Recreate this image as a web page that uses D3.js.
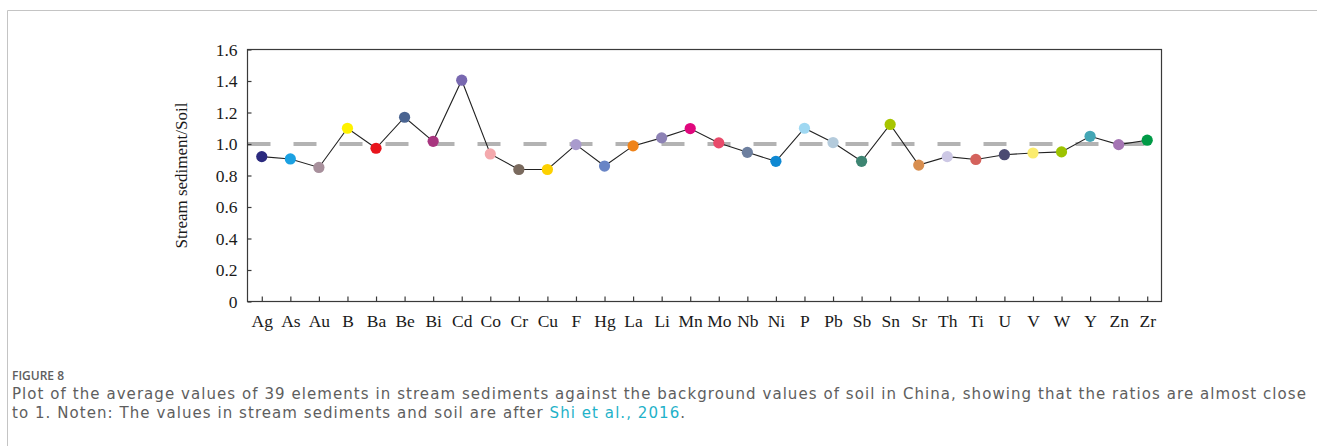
<!DOCTYPE html>
<html>
<head>
<meta charset="utf-8">
<script src="https://cdn.jsdelivr.net/npm/d3@7"></script>
<style>
  html, body { margin: 0; padding: 0; background: #fff; }
  svg { display: block; }
</style>
</head>
<body>
<div id="chart"></div>
<script>
const elements = ['Ag', 'As', 'Au', 'B', 'Ba', 'Be', 'Bi', 'Cd', 'Co', 'Cr', 'Cu', 'F', 'Hg', 'La', 'Li', 'Mn',
                  'Mo', 'Nb', 'Ni', 'P', 'Pb', 'Sb', 'Sn', 'Sr', 'Th', 'Ti', 'U', 'V', 'W', 'Y', 'Zn', 'Zr'];
const ratios = [0.92, 0.905, 0.851, 1.10, 0.973, 1.17, 1.017, 1.405, 0.937, 0.838, 0.838, 0.996, 0.86, 0.988, 1.039, 1.098,
                1.007, 0.947, 0.89, 1.10, 1.009, 0.89, 1.124, 0.866, 0.92, 0.902, 0.932, 0.943, 0.95, 1.049, 0.996, 1.024];
const dotColors = ['#2b2a7e', '#1ba1e2', '#a8909c', '#fff200', '#e8141c', '#4a6491', '#a8357f', '#7868b0',
                   '#f4a9ad', '#7a6a5e', '#fdd100', '#a99bcd', '#6985c6', '#ef8319', '#8d82b5', '#e0077d',
                   '#e84a6a', '#6d7f9f', '#0e88d2', '#9fd8f2', '#b4cbdc', '#3d8572', '#a7c500', '#d88e4f',
                   '#cdc8e5', '#d4625c', '#4b4a72', '#fbec6d', '#9dc300', '#43a6b5', '#a575b4', '#009a46'];
const yTicks = [0, 0.2, 0.4, 0.6, 0.8, 1.0, 1.2, 1.4, 1.6];
const refLevel = 1.0;

const width = 1317, height = 446;
const plot = { left: 247.5, right: 1161.5, top: 49.5, bottom: 301.5 };
const serif = '"Liberation Serif", "DejaVu Serif", serif';

const svg = d3.select('#chart').append('svg')
  .attr('width', width)
  .attr('height', height);

// page frame
svg.append('path')
  .attr('d', `M7.5,${height + 2}V10.5H${width + 2}`)
  .attr('fill', 'none')
  .attr('stroke', '#c4c4c4')
  .attr('stroke-width', 1);

const x = d3.scalePoint()
  .domain(elements)
  .range([plot.left, plot.right])
  .padding(0.5);

const y = d3.scaleLinear()
  .domain([0, 1.6])
  .range([plot.bottom, plot.top]);

const g = svg.append('g');

// reference dashed line at ratio 1
g.append('line')
  .attr('x1', plot.left)
  .attr('x2', plot.right)
  .attr('y1', y(refLevel))
  .attr('y2', y(refLevel))
  .attr('stroke', '#b3b3b3')
  .attr('stroke-width', 4)
  .attr('stroke-dasharray', '23,23');

// plot box
g.append('rect')
  .attr('x', plot.left)
  .attr('y', plot.top)
  .attr('width', plot.right - plot.left)
  .attr('height', plot.bottom - plot.top)
  .attr('fill', 'none')
  .attr('stroke', '#3a3a3a')
  .attr('stroke-width', 1.2);

const xAxis = g.append('g')
  .attr('transform', `translate(0,${plot.bottom})`)
  .call(d3.axisBottom(x).tickSizeInner(-5).tickSizeOuter(0).tickPadding(13));

const yAxis = g.append('g')
  .attr('transform', `translate(${plot.left},0)`)
  .call(d3.axisLeft(y).tickValues(yTicks).tickSizeInner(-4).tickSizeOuter(0).tickPadding(10)
    .tickFormat(d => d === 0 ? '0' : d3.format('.1f')(d)));

[xAxis, yAxis].forEach(a => {
  a.select('.domain').remove();
  a.selectAll('line').attr('stroke', '#3a3a3a').attr('stroke-width', 1.2);
  a.selectAll('text')
    .attr('fill', '#1a1a1a')
    .style('font-family', serif)
    .style('font-size', '17.5px');
});

g.append('text')
  .attr('transform', `translate(187,${(plot.top + plot.bottom) / 2}) rotate(-90)`)
  .attr('text-anchor', 'middle')
  .attr('fill', '#1a1a1a')
  .style('font-family', serif)
  .style('font-size', '17px')
  .text('Stream sediment/Soil');

// connecting line
const line = d3.line()
  .x((d, i) => x(elements[i]))
  .y(d => y(d));

g.append('path')
  .datum(ratios)
  .attr('fill', 'none')
  .attr('stroke', '#222')
  .attr('stroke-width', 1.1)
  .attr('d', line);

g.selectAll('circle.dot')
  .data(ratios)
  .enter()
  .append('circle')
    .attr('class', 'dot')
    .attr('cx', (d, i) => x(elements[i]))
    .attr('cy', d => y(d))
    .attr('r', 5.6)
    .attr('fill', (d, i) => dotColors[i]);

// caption
const capX = 12, capEnd = 1307;
const cap = svg.append('g')
  .attr('fill', '#5e5e5e');

cap.append('text')
  .attr('x', capX)
  .attr('y', 380)
  .style('font-family', '"Open Sans", sans-serif')
  .style('font-size', '12px')
  .style('font-weight', 600)
  .text('FIGURE 8');

const line1 = cap.append('text')
  .attr('x', capX)
  .attr('y', 399)
  .style('font-family', '"DejaVu Sans", sans-serif')
  .style('font-size', '15px')
  .text('Plot of the average values of 39 elements in stream sediments against the background values of soil in China, showing that the ratios are almost close');

const line2 = cap.append('text')
  .attr('x', capX)
  .attr('y', 418)
  .style('font-family', '"DejaVu Sans", sans-serif')
  .style('font-size', '15px');
line2.append('tspan').text('to 1. Noten: The values in stream sediments and soil are after ');
line2.append('tspan').attr('fill', '#1fb2c9').text('Shi et al., 2016');
line2.append('tspan').text('.');

// fit line 1 to the width it has in the source
const n1 = line1.text().length;
const spacing = (capEnd - capX - line1.node().getComputedTextLength()) / n1;
line1.style('letter-spacing', spacing + 'px');
line2.style('letter-spacing', spacing + 'px');
</script>
</body>
</html>
